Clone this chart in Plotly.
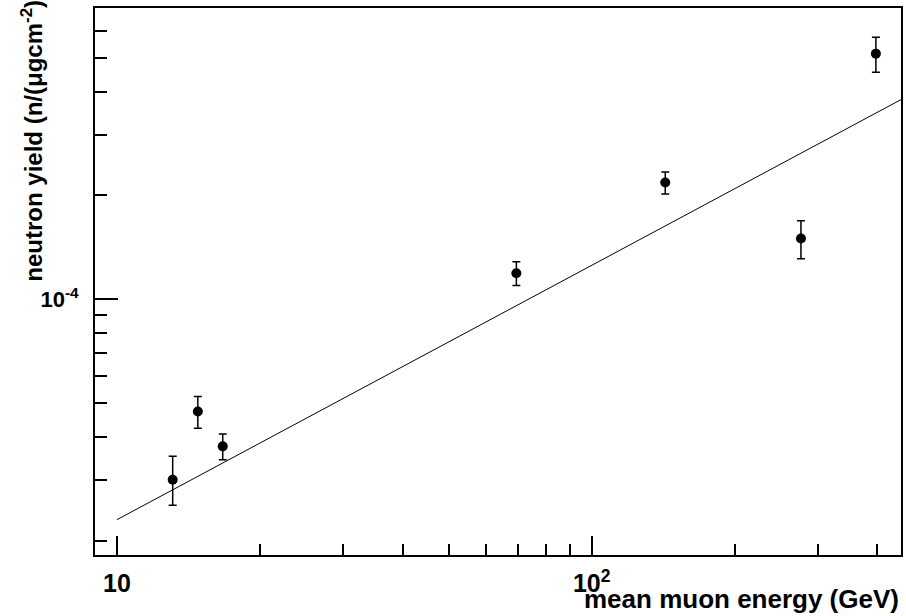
import plotly.graph_objects as go

# data
energy = [13.1, 14.8, 16.7, 69.4, 142.9, 276.0, 397.0]
yield_vals = [3.00e-5, 4.73e-5, 3.75e-5, 1.19e-4, 2.18e-4, 1.50e-4, 5.15e-4]
err_up = [0.51e-5, 0.50e-5, 0.32e-5, 0.094e-4, 0.16e-4, 0.19e-4, 0.59e-4]
err_down = [0.47e-5, 0.50e-5, 0.32e-5, 0.094e-4, 0.16e-4, 0.19e-4, 0.60e-4]

# fit line end points (power law, straight on log-log)
fit_x = [10.0, 448.5]
fit_y = [2.30e-5, 3.79e-4]

x_major = [10, 100]
x_major_text = ["10", "10<sup>2</sup>"]
x_minor = [20, 30, 40, 50, 60, 70, 80, 90, 200, 300, 400]
y_major = [1e-4]
y_major_text = ["10<sup>-4</sup>"]
y_minor = [2e-5, 3e-5, 4e-5, 5e-5, 6e-5, 7e-5, 8e-5, 9e-5, 2e-4, 3e-4, 4e-4, 5e-4, 6e-4]

FONT = "Liberation Sans"

fig = go.Figure()
fig.add_trace(go.Scatter(
    x=fit_x, y=fit_y, mode="lines",
    line=dict(color="black", width=1), showlegend=False, hoverinfo="skip"))
fig.add_trace(go.Scatter(
    x=energy, y=yield_vals, mode="markers",
    marker=dict(color="black", size=10, symbol="circle"),
    error_y=dict(type="data", array=err_up, arrayminus=err_down,
                 color="black", thickness=1.5, width=4),
    showlegend=False))

fig.update_layout(
    width=906, height=616,
    margin=dict(l=95, r=3, t=8, b=61),
    paper_bgcolor="white", plot_bgcolor="white",
    font=dict(family=FONT, color="black"),
    xaxis=dict(type="log", range=[0.9536, 2.6517],
               showgrid=False, zeroline=False,
               showline=True, linecolor="black", linewidth=2, mirror=True,
               ticks="inside", ticklen=19, tickwidth=1.5, tickcolor="black",
               tickmode="array", tickvals=x_major, ticktext=x_major_text,
               tickfont=dict(family=FONT, size=25, weight="bold"),
               ticklabelstandoff=5,
               minor=dict(ticks="inside", ticklen=11, tickwidth=1.5, tickcolor="black",
                          tickmode="array", tickvals=x_minor, showgrid=False)),
    yaxis=dict(type="log", range=[-4.7407, -3.156],
               showgrid=False, zeroline=False,
               showline=True, linecolor="black", linewidth=2, mirror=True,
               ticks="inside", ticklen=23, tickwidth=1.5, tickcolor="black",
               tickmode="array", tickvals=y_major, ticktext=y_major_text,
               tickfont=dict(family=FONT, size=22, weight="bold"),
               ticklabelstandoff=10,
               minor=dict(ticks="inside", ticklen=12, tickwidth=1.5, tickcolor="black",
                          tickmode="array", tickvals=y_minor, showgrid=False)),
    annotations=[
        dict(text="mean muon energy (GeV)", xref="paper", yref="paper",
             x=1.0, y=-0.080, xanchor="right", yanchor="middle", showarrow=False,
             font=dict(family=FONT, size=26, weight="bold", color="black")),
        dict(text="neutron yield (n/(μgcm<sup>-2</sup>)", xref="paper", yref="paper",
             x=-0.0785, y=0.757, xanchor="center", yanchor="middle", textangle=-90,
             showarrow=False,
             font=dict(family=FONT, size=24, weight="bold", color="black")),
    ],
)

fig.write_html("out.html", config={"displayModeBar": False},
               post_script="document.body.style.margin='0';")
